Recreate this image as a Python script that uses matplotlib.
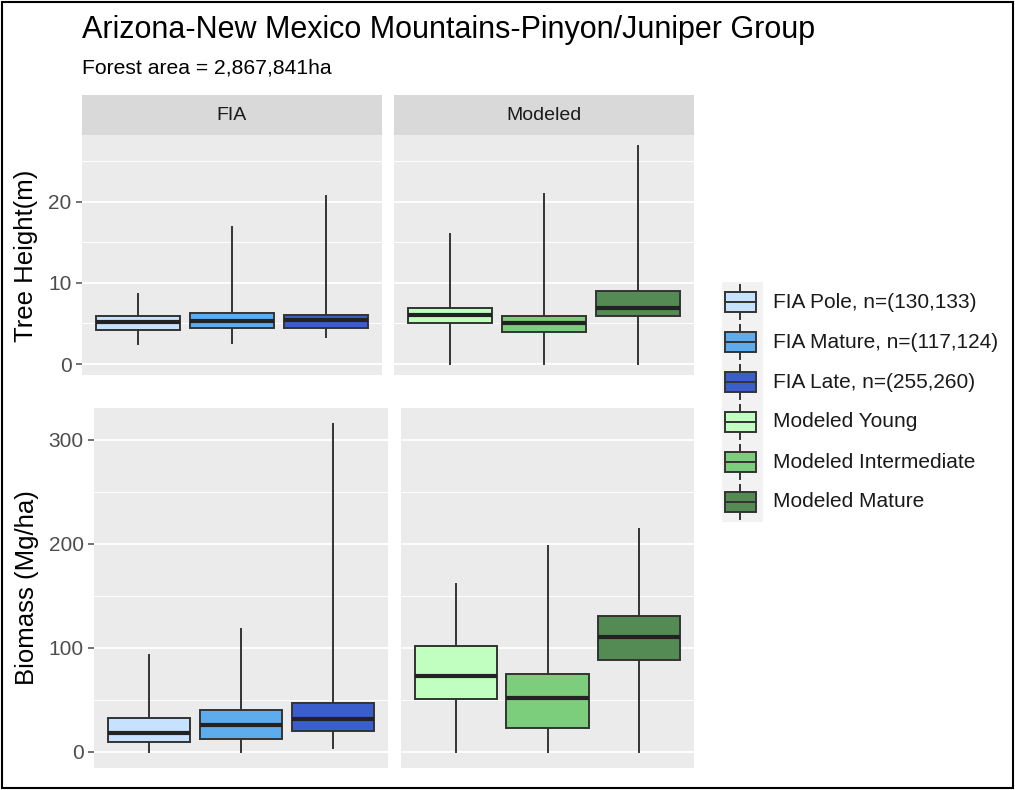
import matplotlib
matplotlib.use("Agg")
import matplotlib.pyplot as plt
from matplotlib.patches import Rectangle
from matplotlib.ticker import MultipleLocator

plt.rcParams['font.family'] = ['Liberation Sans', 'DejaVu Sans']

# ---------------- data ----------------
groups = ["FIA", "Modeled"]
series_labels = ["FIA Pole, n=(130,133)", "FIA Mature, n=(117,124)", "FIA Late, n=(255,260)",
                 "Modeled Young", "Modeled Intermediate", "Modeled Mature"]
colors_fia = ["#C6E2FF", "#5CACEE", "#3A5FCD"]
colors_mod = ["#C1FFC1", "#7CCD7C", "#548B54"]

# Tree height (m)
height_fia_lo = [2.45, 2.6, 3.3]
height_fia_q1 = [4.2, 4.4, 4.4]
height_fia_med = [5.2, 5.3, 5.4]
height_fia_q3 = [5.9, 6.25, 6.0]
height_fia_hi = [8.6, 16.85, 20.65]

height_mod_lo = [0.0, 0.0, 0.0]
height_mod_q1 = [5.0, 4.0, 5.9]
height_mod_med = [6.0, 5.0, 6.95]
height_mod_q3 = [6.95, 5.9, 9.0]
height_mod_hi = [15.95, 20.9, 26.9]

# Biomass (Mg/ha)
bio_fia_lo = [0.0, 0.0, 3.8]
bio_fia_q1 = [9.6, 11.8, 19.8]
bio_fia_med = [17.6, 25.6, 31.1]
bio_fia_q3 = [32.7, 39.7, 47.1]
bio_fia_hi = [92.9, 117.6, 315.4]

bio_mod_lo = [0.0, 0.0, 0.0]
bio_mod_q1 = [50.3, 23.1, 87.8]
bio_mod_med = [72.7, 51.9, 110.2]
bio_mod_q3 = [101.6, 75.0, 131.0]
bio_mod_hi = [160.9, 197.7, 214.4]

height_ticks = [0, 10, 20]
bio_ticks = [0, 100, 200, 300]

title = "Arizona-New Mexico Mountains-Pinyon/Juniper Group"
subtitle = "Forest area = 2,867,841ha"

# ---------------- figure ----------------
W, H = 1015, 790
fig = plt.figure(figsize=(W / 100, H / 100), dpi=100)

def fx(px):
    return px / W

def fy(py):
    return 1 - py / H

PANEL_BG = "#EBEBEB"
STRIP_BG = "#D9D9D9"
EDGE = "#333333"

def make_stats(lo, q1, med, q3, hi):
    return [dict(whislo=a, q1=b, med=c, q3=d, whishi=e, fliers=[])
            for a, b, c, d, e in zip(lo, q1, med, q3, hi)]

def panel(x0, x1, y0, y1, stats, colors, ylim, ticks, minor, show_y):
    ax = fig.add_axes([fx(x0), fy(y1), fx(x1 - x0), (y1 - y0) / H])
    ax.set_facecolor(PANEL_BG)
    for s in ax.spines.values():
        s.set_visible(False)
    bp = ax.bxp(stats, positions=[1, 2, 3], widths=0.9, showcaps=False, showfliers=False,
                patch_artist=True,
                boxprops=dict(edgecolor=EDGE, linewidth=1.4),
                whiskerprops=dict(color=EDGE, linewidth=1.4),
                medianprops=dict(color="#222222", linewidth=3.0, solid_capstyle="butt"))
    for patch, c in zip(bp["boxes"], colors):
        patch.set_facecolor(c)
    ax.set_xlim(0.4, 3.6)
    ax.set_ylim(*ylim)
    ax.set_yticks(ticks)
    ax.yaxis.set_minor_locator(MultipleLocator(minor))
    ax.grid(True, which="major", axis="y", color="white", lw=1.3)
    ax.grid(True, which="minor", axis="y", color="white", lw=0.65)
    ax.set_axisbelow(True)
    ax.set_xticks([])
    ax.tick_params(axis="x", length=0, labelbottom=False)
    ax.tick_params(axis="y", which="minor", length=0)
    if show_y:
        ax.tick_params(axis="y", which="major", length=4.5, width=1.1, color="#4D4D4D",
                       labelsize=15, labelcolor="#4D4D4D", pad=3)
    else:
        ax.tick_params(axis="y", which="major", length=0, labelleft=False)
    return ax

hy = (-1.35, 28.2)
by = (-15.8, 330.8)
panel(82, 382, 135, 375, make_stats(height_fia_lo, height_fia_q1, height_fia_med, height_fia_q3, height_fia_hi),
      colors_fia, hy, height_ticks, 5, True)
panel(394, 694, 135, 375, make_stats(height_mod_lo, height_mod_q1, height_mod_med, height_mod_q3, height_mod_hi),
      colors_mod, hy, height_ticks, 5, False)
panel(94, 388, 408, 768, make_stats(bio_fia_lo, bio_fia_q1, bio_fia_med, bio_fia_q3, bio_fia_hi),
      colors_fia, by, bio_ticks, 50, True)
panel(401, 694, 408, 768, make_stats(bio_mod_lo, bio_mod_q1, bio_mod_med, bio_mod_q3, bio_mod_hi),
      colors_mod, by, bio_ticks, 50, False)

# strips
for (x0, x1), g in zip([(82, 382), (394, 694)], groups):
    fig.patches.append(Rectangle((fx(x0), fy(135)), fx(x1 - x0), 40 / H,
                                 transform=fig.transFigure, facecolor=STRIP_BG, edgecolor="none"))
    fig.text(fx((x0 + x1) / 2), fy(115), g, ha="center", va="center", fontsize=14, color="#1A1A1A")

# axis titles
fig.text(fx(26), fy(256), "Tree Height(m)", rotation=90, ha="center", va="center", fontsize=18.5, color="black")
fig.text(fx(27), fy(588), "Biomass (Mg/ha)", rotation=90, ha="center", va="center", fontsize=18.5, color="black")

# titles
fig.text(fx(82), fy(38), title, ha="left", va="baseline", fontsize=22, color="black")
fig.text(fx(82), fy(74), subtitle, ha="left", va="baseline", fontsize=15.2, color="black")

# legend
lax = fig.add_axes([fx(722), fy(522), fx(41), 240 / H])
lax.set_xlim(0, 1)
lax.set_ylim(0, 6)
lax.axis("off")
lax.add_patch(Rectangle((0, 0), 1, 6, facecolor="#F2F2F2", edgecolor="none", zorder=0))
all_colors = colors_fia + colors_mod
for i, (lab, c) in enumerate(zip(series_labels, all_colors)):
    yc = 5.5 - i
    lax.plot([0.45, 0.45], [yc - 0.42, yc + 0.42], color=EDGE, lw=1.4, zorder=1)
    lax.add_patch(Rectangle((0.07, yc - 0.25), 0.76, 0.5, facecolor=c, edgecolor=EDGE, lw=1.4, zorder=2))
    lax.plot([0.07, 0.83], [yc, yc], color=EDGE, lw=1.4, zorder=3)
    fig.text(fx(773), fy(302 + 40 * i), lab, ha="left", va="center", fontsize=15, color="#1A1A1A")

# outer border
fig.patches.append(Rectangle((fx(2), fy(788)), fx(1011), 786 / H, transform=fig.transFigure,
                             facecolor="none", edgecolor="black", lw=1.5))

fig.savefig("out.png", dpi=100)
